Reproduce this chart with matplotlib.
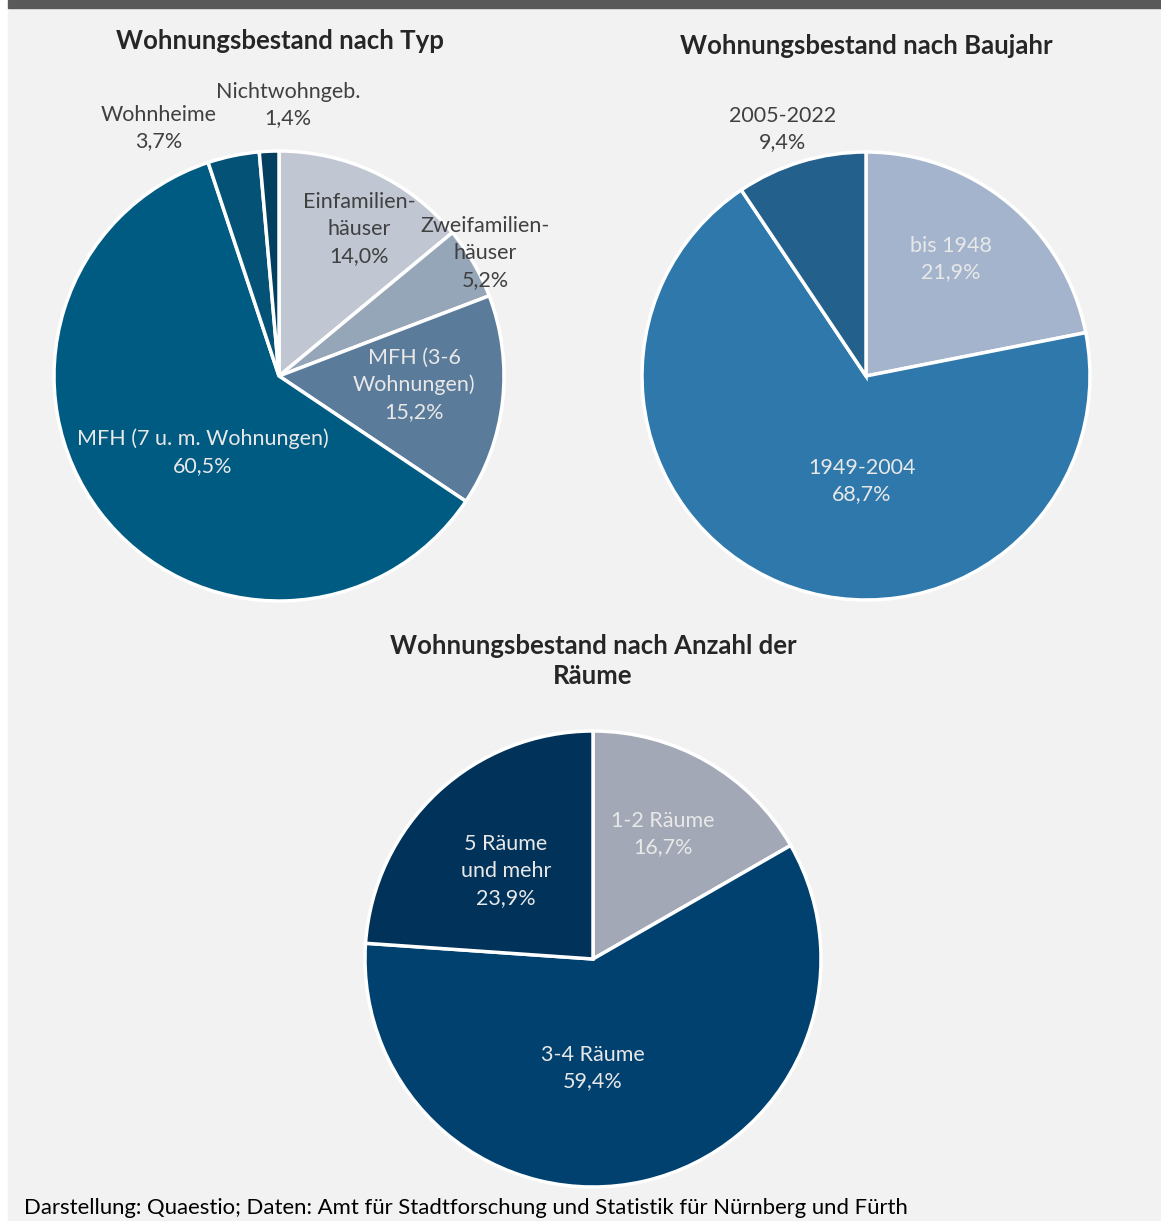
"""Wohnungsbestand: three pie charts (Typ, Baujahr, Anzahl der Räume)."""

import matplotlib
matplotlib.use("Agg")
import matplotlib.pyplot as plt
from matplotlib.patches import Rectangle

W, H = 1161, 1221

# --- data -------------------------------------------------------------
typ_labels = ["Einfamilien-\nhäuser", "Zweifamilien-\nhäuser", "MFH (3-6\nWohnungen)",
              "MFH (7 u. m. Wohnungen)", "Wohnheime", "Nichtwohngeb."]
typ_values = [14.0, 5.2, 15.2, 60.5, 3.7, 1.4]
typ_colors = ["#c0c7d3", "#95a6b9", "#5a7b9a", "#005b82", "#045276", "#033f5e"]

bau_labels = ["bis 1948", "1949-2004", "2005-2022"]
bau_values = [21.9, 68.7, 9.4]
bau_colors = ["#a3b4cc", "#2e78ab", "#23608c"]

raum_labels = ["1-2 Räume", "3-4 Räume", "5 Räume\nund mehr"]
raum_values = [16.7, 59.4, 23.9]
raum_colors = ["#a2a8b6", "#00416f", "#00325a"]

DARK = "#404040"
LIGHT = "#e8e8e8"
FONT = "Lato"


def pct(v):
    return f"{v:.1f}".replace(".", ",") + "%"


def px(x, y):
    """pixel position (from top-left) -> data coords"""
    return x, H - y


fig = plt.figure(figsize=(W / 100, H / 100), dpi=100, facecolor="white")
ax = fig.add_axes([0, 0, 1, 1])

# backgrounds
ax.add_patch(Rectangle(px(8, H), W - 8, H - 8, color="#f2f2f2", zorder=0))
ax.add_patch(Rectangle(px(8, 8), W - 8, 8, color="#595959", zorder=0))


def draw_pie(values, colors, center, radius):
    ax.pie(values, colors=colors, startangle=90, counterclock=False,
           center=px(*center), radius=radius, frame=True,
           wedgeprops=dict(edgecolor="white", linewidth=2.5))


draw_pie(typ_values, typ_colors, (279, 376), 225)
draw_pie(bau_values, bau_colors, (866, 376), 224)
draw_pie(raum_values, raum_colors, (593, 959), 228)

lbl = dict(ha="center", va="center", fontsize=15.5, family=FONT, linespacing=1.42)

# Typ labels
typ_pos = [(359, 229), (485, 253), (414, 385), (203, 452), (159, 128), (288, 105)]
typ_tc = [DARK, DARK, LIGHT, LIGHT, DARK, DARK]
for name, v, (x, y), c in zip(typ_labels, typ_values, typ_pos, typ_tc):
    ax.text(*px(x, y), f"{name}\n{pct(v)}", color=c, **lbl)

# Baujahr labels
bau_pos = [(951, 259), (862, 481), (783, 129)]
bau_tc = [LIGHT, LIGHT, DARK]
for name, v, (x, y), c in zip(bau_labels, bau_values, bau_pos, bau_tc):
    ax.text(*px(x, y), f"{name}\n{pct(v)}", color=c, **lbl)

# Räume labels
raum_pos = [(663, 834), (593, 1068), (506, 871)]
for name, v, (x, y) in zip(raum_labels, raum_values, raum_pos):
    ax.text(*px(x, y), f"{name}\n{pct(v)}", color=LIGHT, **lbl)

# titles
tt = dict(ha="center", va="center", fontsize=18.5, fontweight="bold",
          family=FONT, color="#262626")
ax.text(*px(280, 41), "Wohnungsbestand nach Typ", **tt)
ax.text(*px(866, 46), "Wohnungsbestand nach Baujahr", **tt)
ax.text(*px(593, 661), "Wohnungsbestand nach Anzahl der\nRäume", linespacing=1.35, **tt)

# footer
ax.text(*px(24, 1208), "Darstellung: Quaestio; Daten: Amt für Stadtforschung und "
        "Statistik für Nürnberg und Fürth", ha="left", va="center",
        fontsize=15.9, family=FONT, color="black")

ax.set_xlim(0, W)
ax.set_ylim(0, H)
ax.set_aspect("auto")
ax.axis("off")

fig.savefig("out.png", dpi=100, facecolor="white")
